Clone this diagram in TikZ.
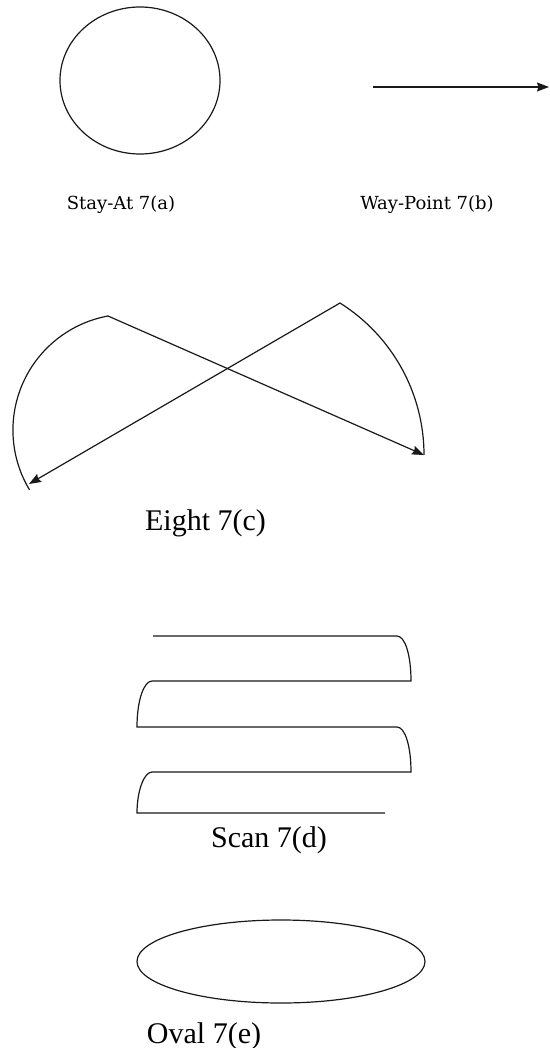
\documentclass[tikz,border=0pt]{standalone}
\usepackage{fontspec}
\setmainfont{Liberation Serif}
\newfontfamily\smallserif{DejaVu Serif}
\usetikzlibrary{arrows.meta}
\begin{document}
\begin{tikzpicture}[x=1pt,y=-1pt,
  shp/.style={draw=black!90, line width=1.2pt},
  arr/.style={-{Stealth[length=12pt,width=9pt,inset=1.5pt]}},
  biglabel/.style={font=\fontsize{30}{34}\selectfont, inner sep=0pt, anchor=base},
  smalllabel/.style={font=\smallserif\fontsize{18}{21}\selectfont, inner sep=0pt, anchor=base}]
\useasboundingbox (0,0) rectangle (549,1048);
% 7(a) circle
\coordinate (stayc) at (140,80.5);
\draw[shp] (stayc) ellipse [x radius=80pt, y radius=73.5pt];
\node[smalllabel] (la) at (121,210) {Stay-At 7(a)};
% 7(b) arrow
\coordinate (wp1) at (373,87);
\coordinate (wp2) at (549,87);
\draw[shp,arr] (wp1) -- (wp2);
\node[smalllabel] (lb) at (427,210) {Way-Point 7(b)};
% 7(c) eight
\coordinate (L1) at (108,316);
\coordinate (R1) at (424,455);
\coordinate (R2) at (340,303);
\coordinate (L2) at (29,484);
\draw[shp,arr] (L1) -- (R1);
\draw[shp] (R1) arc[start angle=0, end angle=57.9, radius=179.5pt];
\draw[shp,arr] (R2) -- (L2);
\draw[shp] (L1) arc[start angle=100.4, end angle=211, radius=116pt];
\node[biglabel] (lc) at (205.5,530) {Eight 7(c)};
% 7(d) scan
\draw[shp] (153,636) -- (397,636) .. controls (405,636) and (411,655) .. (411,681)
  -- (152,681) .. controls (144,681) and (137,700) .. (137,727)
  -- (397,727) .. controls (405,727) and (411,746) .. (411,772)
  -- (152,772) .. controls (144,772) and (137,791) .. (137,813)
  -- (385,813);
\node[biglabel] (ld) at (269,847) {Scan 7(d)};
% 7(e) oval
\coordinate (ovc) at (281,961.5);
\draw[shp] (ovc) ellipse [x radius=144pt, y radius=41.5pt];
\node[biglabel] (le) at (204,1043) {Oval 7(e)};
\end{tikzpicture}
\end{document}
